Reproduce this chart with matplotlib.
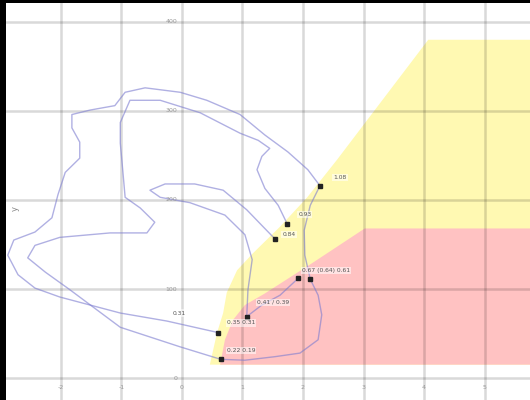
import matplotlib
matplotlib.use("Agg")
import matplotlib.pyplot as plt

# axis ticks
x_ticks = [-2, -1, 0, 1, 2, 3, 4, 5]
y_ticks = [0, 100, 200, 300, 400]

# shaded zones (x, y)
zone_yellow_x = [6.2, 4.07, 2.56, 2.07, 1.62, 1.17, 0.91, 0.74, 0.68, 0.58, 0.46, 6.2]
zone_yellow_y = [380, 380, 245, 203, 170, 140, 121, 96, 73, 51, 15, 15]
zone_pink_x = [6.2, 3.02, 2.15, 1.37, 1.04, 0.84, 0.71, 0.63, 6.2]
zone_pink_y = [168, 168, 129, 95, 82, 65, 43, 15, 15]

# traces
t1_x = [2.12, 2.03, 2.02, 2.12, 2.28, 2.08, 1.75, 1.37, 0.96, 0.41, -0.03, -0.61, -0.94, -1.11,
        -1.52, -1.82, -1.82, -1.69, -1.69, -1.93, -2.05, -2.15, -2.43, -2.78, -2.88, -2.71,
        -2.43, -2.02, -1.02, -0.25, 0.60]
t1_y = [111, 138, 166, 194, 216, 234, 254, 273, 296, 312, 321, 326, 321, 306,
        301, 296, 281, 265, 247, 231, 206, 180, 164, 155, 138, 116,
        101, 91, 73, 64, 51]
t2_x = [1.74, 1.59, 1.37, 1.24, 1.32, 1.45, 1.26, 0.96, 0.30, -0.36, -0.86, -1.02, -1.02, -0.98,
        -0.94, -0.69, -0.45, -0.58, -1.19, -2.02, -2.43, -2.55, -2.26, -1.85, -1.02, -0.03, 0.64]
t2_y = [173, 194, 213, 234, 249, 258, 267, 275, 298, 312, 312, 287, 264, 234,
        203, 191, 175, 163, 163, 158, 149, 135, 119, 99, 57, 35, 21]
t3_x = [1.54, 1.34, 1.07, 0.68, 0.21, -0.28, -0.53, -0.36, 0.13, 0.71, 1.04, 1.16, 1.09, 1.07]
t3_y = [156, 170, 189, 211, 218, 218, 211, 203, 197, 183, 161, 133, 99, 69]
t4_x = [2.12, 2.25, 2.31, 2.25, 1.95, 1.54, 1.04, 0.64]
t4_y = [111, 93, 71, 43, 28, 24, 20, 21]
t5_x = [1.92, 1.62, 1.32, 1.07]
t5_y = [112, 93, 82, 69]

# labelled points
pt_x = [2.28, 1.74, 1.54, 1.92, 2.12, 1.07, 0.60, 0.64]
pt_y = [216, 173, 156, 112, 111, 69, 51, 21]
lab_x = [2.50, 1.92, 1.66, 1.98, 1.24, 0.74, 0.74, -0.15]
lab_y = [225, 184, 161, 121, 85, 62, 31, 73]
lab_text = ["1.08", "0.93", "0.84", "0.67 (0.64) 0.61", "0.41 / 0.39", "0.35 0.31", "0.22 0.19", "0.31"]

fig = plt.figure(figsize=(5.3, 4.0), dpi=100, facecolor="black")
ax = fig.add_axes([6 / 530, 0, 524 / 530, 397 / 400])
ax.set_facecolor("white")
ax.set_xlim(-2.909, 5.752)
ax.set_ylim(-24.7, 421.3)
for s in ax.spines.values():
    s.set_visible(False)
ax.set_xticks([])
ax.set_yticks([])

ax.fill(zone_yellow_x, zone_yellow_y, color="#fff9b2", lw=0, zorder=1)
ax.fill(zone_pink_x, zone_pink_y, color="#ffc2c2", lw=0, zorder=1.1)

for xv in x_ticks:
    ax.axvline(xv, color="black", alpha=0.15, lw=1.8, zorder=2)
for yv in y_ticks:
    ax.axhline(yv, color="black", alpha=0.15, lw=1.8, zorder=2)

for tx, ty in [(t1_x, t1_y), (t2_x, t2_y), (t3_x, t3_y), (t4_x, t4_y), (t5_x, t5_y)]:
    ax.plot(tx, ty, color="#7c7cd0", alpha=0.6, lw=1.0, zorder=3)

ax.plot(pt_x, pt_y, ls="none", marker="s", ms=3.2, color="#222222", zorder=4)
for lx, ly, t in zip(lab_x, lab_y, lab_text):
    ax.text(lx, ly, t, fontsize=4.3, color="#555555", ha="left", va="center", zorder=5,
            bbox=dict(boxstyle="square,pad=0.2", fc="white", ec="none", alpha=0.55))

for yv in y_ticks:
    ax.text(-0.08, yv, str(yv), fontsize=4.5, color="#999999", ha="right", va="center", zorder=5)
for xv in x_ticks:
    ax.text(xv, -11, str(xv), fontsize=4.5, color="#999999", ha="center", va="center", zorder=5)

ax.text(-2.75, 190, "y", fontsize=6, color="#888888", rotation=90, ha="center", va="center")

fig.savefig("out.png", dpi=100, facecolor=fig.get_facecolor())
